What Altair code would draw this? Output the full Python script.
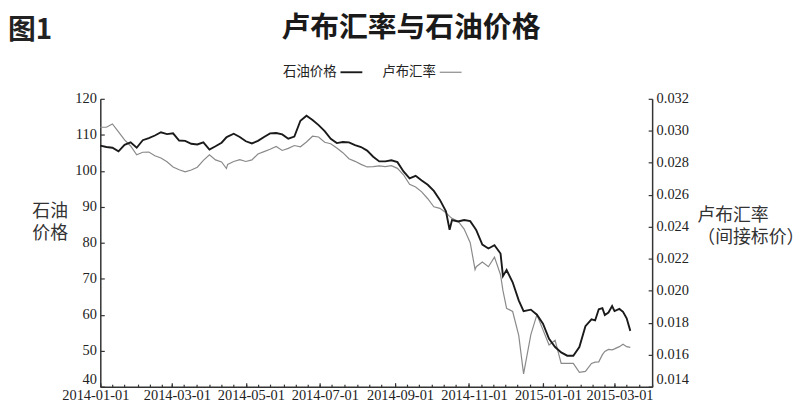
import altair as alt
import pandas as pd

# ---------------- data ----------------
dates = [
    "2014-01-01", "2014-01-06", "2014-01-11", "2014-01-16", "2014-01-21", "2014-01-26", "2014-01-31",
    "2014-02-05", "2014-02-10", "2014-02-15", "2014-02-20", "2014-02-25", "2014-03-02", "2014-03-07",
    "2014-03-12", "2014-03-17", "2014-03-22", "2014-03-27", "2014-04-01", "2014-04-06", "2014-04-11",
    "2014-04-15", "2014-04-16", "2014-04-21", "2014-04-26", "2014-05-01", "2014-05-06", "2014-05-11",
    "2014-05-16", "2014-05-21", "2014-05-26", "2014-05-31", "2014-06-05", "2014-06-10", "2014-06-15",
    "2014-06-20", "2014-06-25", "2014-06-30", "2014-07-05", "2014-07-10", "2014-07-15", "2014-07-20",
    "2014-07-25", "2014-07-30", "2014-08-04", "2014-08-09", "2014-08-14", "2014-08-19", "2014-08-24",
    "2014-08-29", "2014-09-03", "2014-09-08", "2014-09-13", "2014-09-18", "2014-09-23", "2014-09-28",
    "2014-10-03", "2014-10-08", "2014-10-13", "2014-10-16", "2014-10-18", "2014-10-23", "2014-10-28",
    "2014-11-02", "2014-11-06", "2014-11-07", "2014-11-12", "2014-11-17", "2014-11-22", "2014-11-27",
    "2014-11-29", "2014-12-02", "2014-12-07", "2014-12-12", "2014-12-16", "2014-12-22", "2014-12-27",
    "2015-01-01", "2015-01-06", "2015-01-11", "2015-01-16", "2015-01-21", "2015-01-26", "2015-01-31",
    "2015-02-05", "2015-02-10", "2015-02-13", "2015-02-16", "2015-02-19", "2015-02-21", "2015-02-24",
    "2015-02-27", "2015-03-01", "2015-03-05", "2015-03-08", "2015-03-11", "2015-03-14",
]
oil_price = [
    107.0, 106.6, 106.4, 105.4, 107.2, 107.9, 106.4,
    108.5, 109.1, 109.8, 110.7, 110.2, 110.4, 108.4,
    108.3, 107.5, 107.3, 107.9, 105.9, 106.8, 107.8,
    109.3, 109.5, 110.3, 109.4, 108.2, 107.6, 108.3,
    109.4, 110.4, 110.5, 110.1, 108.9, 109.5, 113.9,
    115.3, 114.1, 112.7, 111.0, 108.9, 107.7, 108.0,
    107.9, 107.1, 106.6, 105.6, 103.9, 102.6, 102.6,
    102.9, 102.4, 99.8, 97.9, 98.6, 97.3, 96.1,
    94.4, 91.9, 88.7, 83.6, 86.3, 85.9, 86.3,
    86.0, 84.0, 83.5, 79.5, 78.4, 79.3, 77.0,
    70.7, 72.4, 69.0, 64.0, 61.0, 61.4, 60.0,
    57.5, 53.3, 51.0, 49.5, 48.6, 48.6, 51.0,
    56.8, 58.7, 58.4, 61.5, 61.8, 59.9, 60.6,
    62.4, 61.0, 61.6, 60.8, 59.0, 55.5,
]
ruble_rate = [
    0.03022, 0.03022, 0.03043, 0.02993, 0.02943, 0.02905, 0.02850,
    0.02866, 0.02867, 0.02844, 0.02830, 0.02806, 0.02774, 0.02756,
    0.02743, 0.02755, 0.02772, 0.02815, 0.02850, 0.02818, 0.02805,
    0.02764, 0.02790, 0.02808, 0.02820, 0.02808, 0.02818, 0.02855,
    0.02870, 0.02885, 0.02902, 0.02877, 0.02890, 0.02908, 0.02900,
    0.02930, 0.02966, 0.02961, 0.02928, 0.02919, 0.02892, 0.02863,
    0.02825, 0.02809, 0.02790, 0.02774, 0.02776, 0.02780, 0.02776,
    0.02782, 0.02765, 0.02725, 0.02665, 0.02648, 0.02618, 0.02575,
    0.02525, 0.02515, 0.02487, 0.02465, 0.02452, 0.02435, 0.02385,
    0.02300, 0.02132, 0.02150, 0.02180, 0.02150, 0.02210, 0.02100,
    0.02000, 0.01890, 0.01870, 0.01720, 0.01480, 0.01725, 0.01850,
    0.01755, 0.01660, 0.01690, 0.01545, 0.01545, 0.01545, 0.01490,
    0.01495, 0.01545, 0.01553, 0.01555, 0.01600, 0.01620, 0.01633,
    0.01630, 0.01636, 0.01650, 0.01665, 0.01650, 0.01646,
]
series_names = ["石油价格", "卢布汇率"]

x_domain = ["2014-01-01", "2015-04-01"]
x_label_dates = ["2014-01-01", "2014-03-01", "2014-05-01", "2014-07-01",
                 "2014-09-01", "2014-11-01", "2015-01-01", "2015-03-01"]
x_minor_dates = [f"{y}-{m:02d}-{d:02d}" for (y, m) in
                 [(2014, k) for k in range(1, 13)] + [(2015, k) for k in range(1, 4)]
                 for d in (1, 11, 21)] + ["2015-04-01"]
left_ticks = [40, 50, 60, 70, 80, 90, 100, 110, 120]
right_ticks = [0.014, 0.016, 0.018, 0.020, 0.022, 0.024, 0.026, 0.028, 0.030, 0.032]

fig_label = "图1"
title_text = "卢布汇率与石油价格"
left_title = ["石油", "价格"]
right_title = ["卢布汇率", "（间接标价）"]

# ---------------- chart ----------------
CJK = "Noto Sans CJK SC"
SERIF = "Liberation Serif"


def dt(s):
    y, m, d = (int(v) for v in s.split("-"))
    return alt.DateTime(year=y, month=m, date=d)


n = len(dates)
df = pd.DataFrame({
    "date": pd.to_datetime(dates * 2),
    "series": [series_names[0]] * n + [series_names[1]] * n,
    "value": oil_price + ruble_rate,
})

xscale = alt.Scale(domain=[dt(x_domain[0]), dt(x_domain[1])])
oil_scale = alt.Scale(domain=[40, 120], nice=False, zero=False)
rub_scale = alt.Scale(domain=[0.014, 0.032], nice=False, zero=False)

# label first, then the line sample: right-aligned label padded with two
# ideographic spaces (closed by a word joiner so they are not trimmed)
legend = alt.Legend(
    title=None, orient="none", legendX=182, legendY=-39, direction="horizontal",
    symbolType="stroke", symbolSize=484, symbolOffset=59, labelAlign="right", labelOffset=0,
    labelExpr="datum.label + '\u3000\u3000\u2060'",
    labelFont=CJK, labelFontSize=13.5, labelColor="#222", columnPadding=14,
)
color = alt.Color("series:N", scale=alt.Scale(domain=series_names, range=["#1a1a1a", "#8a8a8a"]),
                  legend=legend)
swidth = alt.StrokeWidth("series:N", scale=alt.Scale(domain=series_names, range=[1.9, 1.2]),
                         legend=legend)

base = alt.Chart(df)
is_oil = alt.datum.series == series_names[0]
is_rub = alt.datum.series == series_names[1]

rub_line = base.transform_filter(is_rub).mark_line().encode(
    x=alt.X("date:T", scale=xscale, axis=None),
    y=alt.Y("value:Q", scale=rub_scale, axis=alt.Axis(
        orient="right", values=right_ticks, format=".3f", ticks=False, labelPadding=4,
        labelBaseline={"condition": {"test": "datum.value < 0.0145", "value": "bottom"},
                       "value": "middle"},
        title=right_title, titleAngle=0, titleAlign="left", titleBaseline="top",
        titleX=45, titleY=109, titleFont=CJK, titleFontSize=18, titleFontWeight="normal",
        titleColor="#333", titleLineHeight=22)),
    color=color, strokeWidth=swidth,
)

oil_line = base.transform_filter(is_oil).mark_line().encode(
    x=alt.X("date:T", scale=xscale, axis=alt.Axis(
        orient="bottom", values=[dt(s) for s in x_label_dates], format="%Y-%m-%d",
        ticks=False, labelPadding=2,
        labelOffset={"condition": {"test": "datum.value < datetime(2014, 1, 1)", "value": -5},
                     "value": 5},
        labelFlush=False, labelOverlap=False, title=None)),
    y=alt.Y("value:Q", scale=oil_scale, axis=alt.Axis(
        orient="left", values=left_ticks, ticks=False, labelPadding=4,
        labelBaseline={"condition": {"test": "datum.value <= 40", "value": "bottom"},
                       "value": "middle"},
        title=left_title, titleAngle=0, titleAlign="center", titleBaseline="top",
        titleX=-51, titleY=105, titleFont=CJK, titleFontSize=18, titleFontWeight="normal",
        titleColor="#333", titleLineHeight=22)),
    color=color, strokeWidth=swidth,
)

# invisible twins that carry the inward-pointing tick marks
oil_ticks = base.transform_filter(is_oil).mark_line(strokeOpacity=0).encode(
    x=alt.X("date:T", scale=xscale, axis=alt.Axis(
        orient="bottom", values=[dt(s) for s in x_label_dates], tickSize=4, offset=-4,
        labels=False, domain=False, title=None)),
    y=alt.Y("value:Q", scale=oil_scale, axis=alt.Axis(
        orient="left", values=left_ticks, tickSize=4, offset=-4,
        labels=False, domain=False, title=None)),
)
rub_ticks = base.transform_filter(is_rub).mark_line(strokeOpacity=0).encode(
    x=alt.X("date:T", scale=xscale, axis=alt.Axis(
        orient="bottom", values=[dt(s) for s in x_minor_dates], tickSize=2.5, offset=-2.5,
        labels=False, domain=False, title=None)),
    y=alt.Y("value:Q", scale=rub_scale, axis=alt.Axis(
        orient="right", values=right_ticks, tickSize=4, offset=-4,
        labels=False, domain=False, title=None)),
)

fig_text = alt.Chart(pd.DataFrame({"t": [fig_label]})).mark_text(
    align="left", baseline="alphabetic", font=CJK, fontSize=28, fontWeight="bold", color="#222"
).encode(text="t:N", x=alt.value(-93), y=alt.value(-60))

chart = alt.layer(rub_line, oil_line, oil_ticks, rub_ticks, fig_text).resolve_scale(
    y="independent"
).resolve_axis(
    x="independent", y="independent"
).properties(
    width=556, height=290,
    title=alt.TitleParams(text=title_text, font=CJK, fontSize=29, fontWeight="bold",
                          color="#1a1a1a", anchor="middle", frame="group", dx=35, dy=40,
                          offset=14),
    padding={"left": 93, "top": 90, "right": 151, "bottom": 16},
    autosize=alt.AutoSizeParams(type="none"),
).configure_view(
    stroke=None
).configure_axis(
    labelFont=SERIF, labelFontSize=14.5, labelColor="#222", domainColor="#333", domainWidth=1.5,
    tickColor="#333", tickWidth=1.2, grid=False,
)

chart.save("out.html", embed_options={"renderer": "svg", "actions": False})
